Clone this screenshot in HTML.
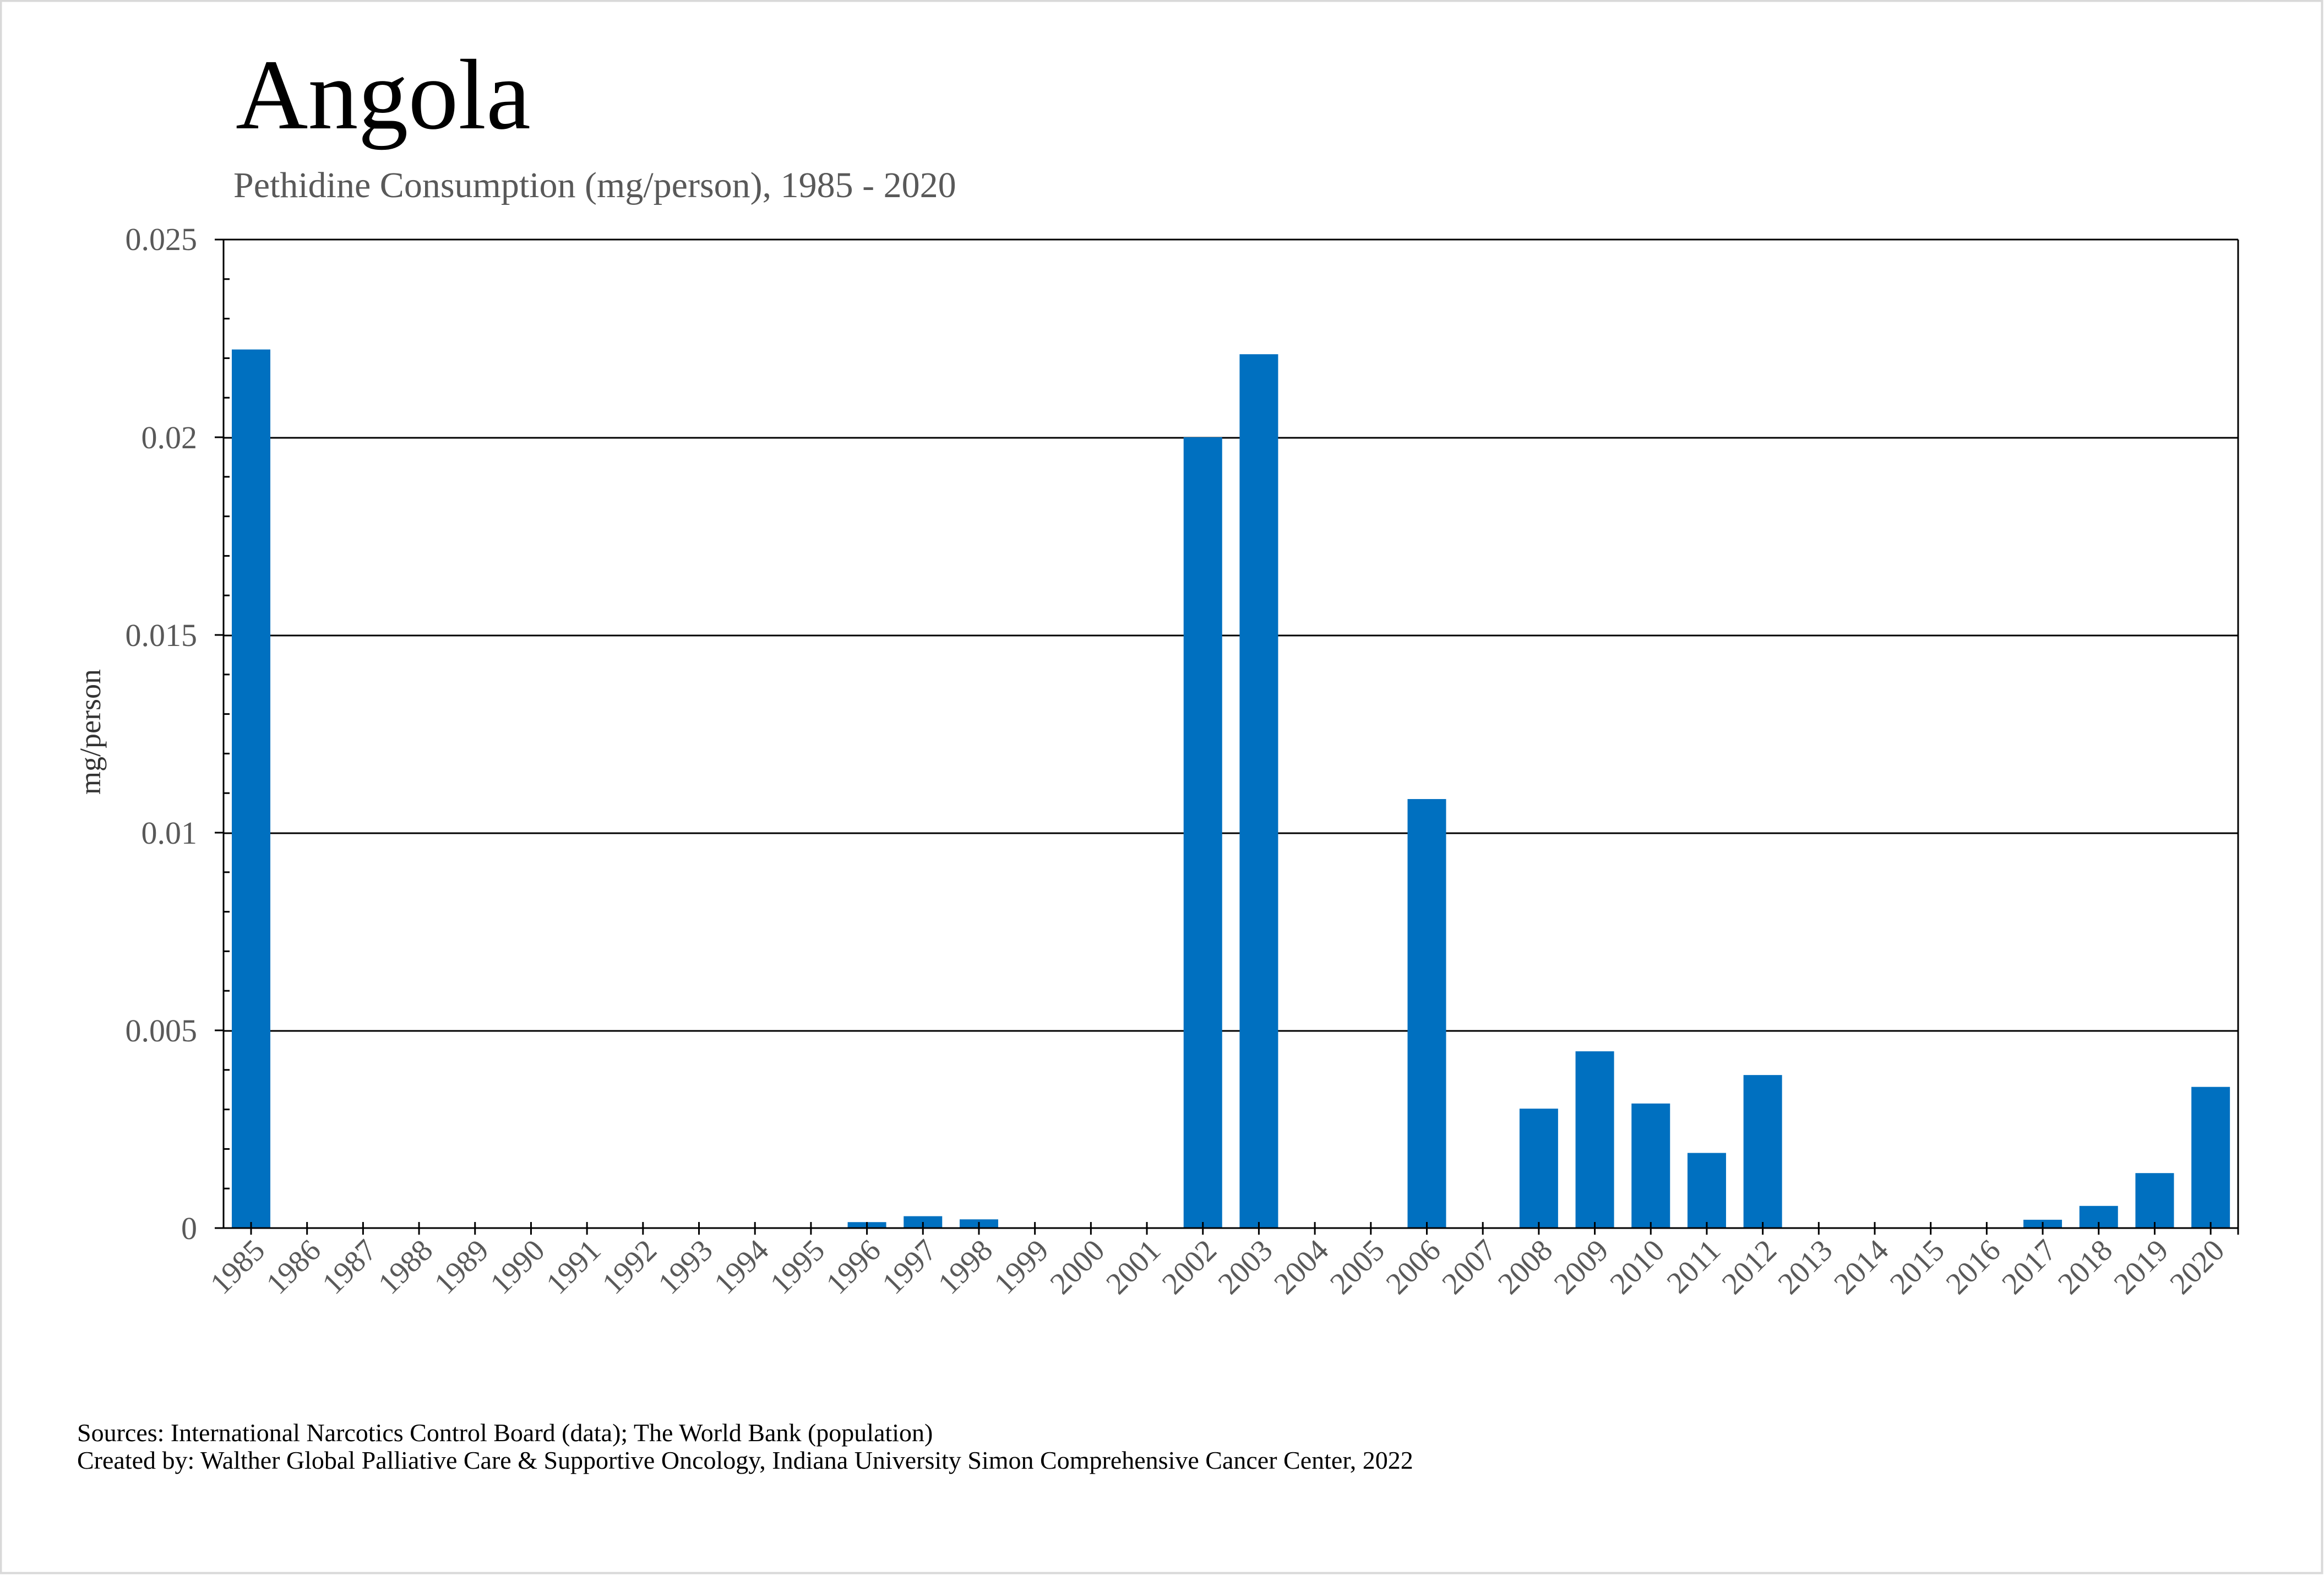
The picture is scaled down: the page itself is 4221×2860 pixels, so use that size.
<!DOCTYPE html>
<html><head><meta charset="utf-8"><style>html,body{margin:0;padding:0;background:#fff}svg{display:block}</style></head>
<body>
<svg width="4221" height="2860" viewBox="0 0 4221 2860" xmlns="http://www.w3.org/2000/svg" font-family="Liberation Serif, serif">
<rect x="1.5" y="1.5" width="4216" height="2855" fill="#fff" stroke="#d9d9d9" stroke-width="4"/>
<text x="428" y="233" font-size="182" fill="#000">Angola</text>
<text x="424" y="358" font-size="66" fill="#595959">Pethidine Consumption (mg/person), 1985 - 2020</text>
<g stroke="#000" stroke-width="3">
<line x1="406" y1="435" x2="4065" y2="435"/>
<line x1="406" y1="795" x2="4065" y2="795"/>
<line x1="406" y1="1154" x2="4065" y2="1154"/>
<line x1="406" y1="1513" x2="4065" y2="1513"/>
<line x1="406" y1="1872" x2="4065" y2="1872"/>
</g>
<g fill="#0070c0" id="bars"></g>
<g stroke="#000" stroke-width="3" fill="none" id="axes">
<line x1="406" y1="435" x2="406" y2="2231"/>
<line x1="4065" y1="435" x2="4065" y2="2242"/>
<line x1="394" y1="2230" x2="4066" y2="2230"/>
</g>
<g font-size="58" fill="#595959" text-anchor="end">
<text x="358" y="454">0.025</text>
<text x="358" y="814">0.02</text>
<text x="358" y="1173">0.015</text>
<text x="358" y="1532">0.01</text>
<text x="358" y="1891">0.005</text>
<text x="358" y="2250">0</text>
</g>
<text transform="translate(182,1329) rotate(-90)" font-size="54" fill="#333" text-anchor="middle">mg/person</text>
<g id="xl" font-size="56" fill="#595959" text-anchor="end"></g>
<g font-size="46" fill="#000">
<text x="140" y="2617">Sources: International Narcotics Control Board (data); The World Bank (population)</text>
<text x="140" y="2667">Created by: Walther Global Palliative Care &amp; Supportive Oncology, Indiana University Simon Comprehensive Cancer Center, 2022</text>
</g>
<script>
var vals={1985:0.02222,1996:0.00015,1997:0.0003,1998:0.00022,2002:0.0200,2003:0.0221,2006:0.01085,2008:0.00302,2009:0.00447,2010:0.00315,2011:0.0019,2012:0.00387,2017:0.00021,2018:0.00056,2019:0.00139,2020:0.00357};
var ns="http://www.w3.org/2000/svg",bars=document.getElementById('bars'),ax=document.getElementById('axes'),xl=document.getElementById('xl');
function el(t,a,p){var e=document.createElementNS(ns,t);for(var k in a)e.setAttribute(k,a[k]);p.appendChild(e);return e;}
for(var i=0;i<36;i++){var y=1985+i,cx=456+i*101.69;
 if(vals[y]){var h=vals[y]/0.005*359;el('rect',{x:cx-35,y:2230-h,width:70,height:h},bars);}
 el('line',{x1:cx,y1:2219,x2:cx,y2:2242},ax);
 var t=el('text',{transform:'translate('+(cx+28)+',2274) rotate(-45)'},xl);t.textContent=y;}
for(var j=1;j<25;j++){if(j%5==0)continue;var yy=2230-j*71.8;el('line',{x1:406,y1:yy,x2:417,y2:yy},ax);}
for(var j=0;j<=5;j++){var yy=2230-j*359;el('line',{x1:390,y1:yy,x2:406,y2:yy},ax);}
</script>
</svg>
</body></html>
